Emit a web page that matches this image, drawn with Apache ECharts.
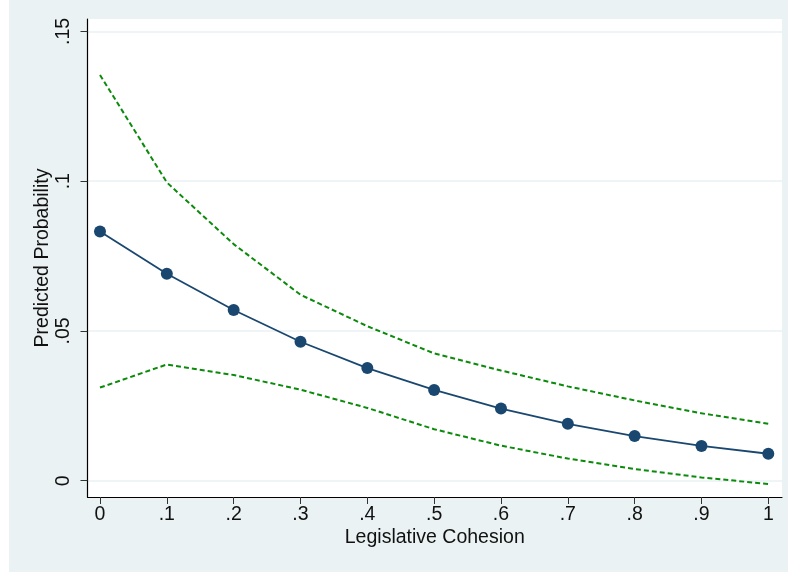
<!DOCTYPE html>
<html>
<head>
<meta charset="utf-8">
<script src="https://cdn.jsdelivr.net/npm/echarts@6/dist/echarts.min.js"></script>
<style>
  html, body { margin: 0; padding: 0; background: #ffffff; }
  #chart { width: 788px; height: 573px; }
</style>
</head>
<body>
<div id="chart"></div>
<script>
// Legislative cohesion values on the x axis
const cohesion = [0, 0.1, 0.2, 0.3, 0.4, 0.5, 0.6, 0.7, 0.8, 0.9, 1];
// Predicted probability and its confidence bounds
const predicted = [0.0832, 0.0691, 0.0570, 0.0464, 0.0376, 0.0303, 0.0241, 0.0190, 0.0149, 0.0116, 0.0090];
const upperBound = [0.1355, 0.0996, 0.0790, 0.0621, 0.0516, 0.0425, 0.0368, 0.0315, 0.0268, 0.0225, 0.0190];
const lowerBound = [0.0311, 0.0388, 0.0353, 0.0304, 0.0243, 0.0172, 0.0117, 0.0074, 0.0039, 0.0011, -0.0011];

// Tick positions and their printed labels
const xTicks = [0, 0.1, 0.2, 0.3, 0.4, 0.5, 0.6, 0.7, 0.8, 0.9, 1];
const xTickLabels = ['0', '.1', '.2', '.3', '.4', '.5', '.6', '.7', '.8', '.9', '1'];
const yTicks = [0, 0.05, 0.1, 0.15];
const yTickLabels = ['0', '.05', '.1', '.15'];

const FONT = '"Liberation Sans", Arial, Helvetica, sans-serif';
const BG = '#EAF2F3';
const NAVY = '#1A476F';
const GREEN = '#0B8A0B';

function labelFor(ticks, labels) {
  return function (v) {
    for (let i = 0; i < ticks.length; i++) {
      if (Math.abs(ticks[i] - v) < 1e-6) return labels[i];
    }
    return '';
  };
}

const pairs = (ys) => cohesion.map((x, i) => [x, ys[i]]);

const chart = echarts.init(document.getElementById('chart'), null, { renderer: 'canvas' });

chart.setOption({
  backgroundColor: BG,
  animation: false,
  graphic: [
    { type: 'rect', left: 0, top: 0, shape: { width: 9, height: 573 }, style: { fill: '#ffffff' }, silent: true },
    { type: 'rect', left: 0, top: 572, shape: { width: 788, height: 1 }, style: { fill: '#ffffff' }, silent: true }
  ],
  grid: {
    left: 87.5, right: 6, top: 19, bottom: 76,
    show: true, backgroundColor: '#ffffff', borderWidth: 0
  },
  xAxis: {
    type: 'value',
    min: -0.0187, max: 1.0205,
    name: 'Legislative Cohesion',
    nameLocation: 'middle',
    nameGap: 31,
    nameMoveOverlap: false,
    nameTextStyle: { fontFamily: FONT, fontSize: 19.5, color: '#111' },
    axisLine: { show: true, onZero: false, lineStyle: { color: '#000', width: 1.2 } },
    axisTick: { show: true, customValues: xTicks, length: 7, lineStyle: { color: '#333', width: 1 } },
    axisLabel: {
      customValues: xTicks, margin: 8,
      fontFamily: FONT, fontSize: 19.5, color: '#111',
      formatter: labelFor(xTicks, xTickLabels)
    },
    splitLine: { show: false }
  },
  yAxis: {
    type: 'value',
    min: -0.00544, max: 0.15417,
    name: 'Predicted Probability',
    nameLocation: 'middle',
    nameGap: 35,
    nameRotate: 90,
    nameMoveOverlap: false,
    nameTextStyle: { fontFamily: FONT, fontSize: 19.5, color: '#111' },
    axisLine: { show: true, onZero: false, lineStyle: { color: '#000', width: 1.2 } },
    axisTick: { show: true, customValues: yTicks, length: 7, lineStyle: { color: '#333', width: 1 } },
    axisLabel: {
      customValues: yTicks, margin: 14, rotate: 90,
      fontFamily: FONT, fontSize: 19.5, color: '#111',
      formatter: labelFor(yTicks, yTickLabels)
    },
    splitLine: { show: true, lineStyle: { color: BG, width: 1.5 } }
  },
  series: [
    {
      name: 'Upper bound', type: 'line', data: pairs(upperBound),
      symbol: 'none', lineStyle: { color: GREEN, width: 2, type: [5, 3] }, z: 2
    },
    {
      name: 'Lower bound', type: 'line', data: pairs(lowerBound),
      symbol: 'none', lineStyle: { color: GREEN, width: 2, type: [5, 3] }, z: 2
    },
    {
      name: 'Predicted Probability', type: 'line', data: pairs(predicted),
      symbol: 'circle', symbolSize: 12,
      itemStyle: { color: NAVY },
      lineStyle: { color: NAVY, width: 1.8 }, z: 3
    }
  ]
});
</script>
</body>
</html>
